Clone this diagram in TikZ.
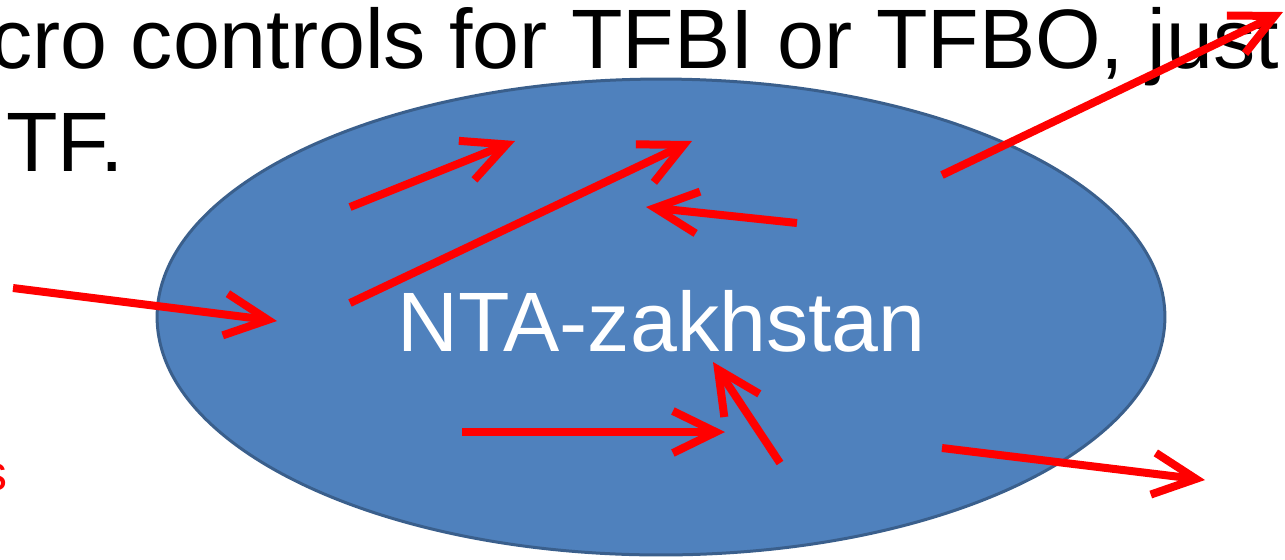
\documentclass[tikz,border=0pt]{standalone}
\usepackage{fontspec}
\setmainfont{Liberation Sans}
\usetikzlibrary{shapes.geometric, arrows.meta, positioning}
\definecolor{blobblue}{HTML}{4F81BD}
\definecolor{blobedge}{HTML}{3A5F8C}

\begin{document}
\begin{tikzpicture}[x=0.02cm, y=-0.02cm,
  flow/.style={draw=red, line width=0.16cm, -{Straight Barb[length=0.86cm, width=0.84cm, sharp]}},
  slidetext/.style={font=\fontsize{48pt}{57pt}\selectfont, inner sep=0, anchor=base west}]
\useasboundingbox (0,0) rectangle (1285,559);
\clip (0,0) rectangle (1285,559);
% the region
\node[ellipse, draw=blobedge, fill=blobblue, line width=0.06cm, inner sep=0,
      minimum width=20.16cm, minimum height=9.52cm] (blob) at (661,317) {};
\node[slidetext, anchor=base, text=white] (name) at (661.5,351) {NTA-zakhstan};
% slide text behind
\node[slidetext] (line1) at (-10,68) {cro controls for TFBI or TFBO, just};
\node[slidetext] (line2) at (6,171) {TF.};
\node[font=\fontsize{28.4pt}{34pt}\selectfont, text=red, inner sep=0, anchor=base east] (cut) at (8,490) {s};
% flows in, out and inside
\foreach \f/\ax/\ay/\bx/\by in {f1/350/207/515/141, f2/350/303/692/141,
    f3/797/223/646/207, f4/13/288/277/321,
    f5/942/175/1283/12, f6/462/432/725/432,
    f7/780/463/713/362, f8/942/448/1205/480} {
  \coordinate (\f-s) at (\ax,\ay);
  \coordinate (\f-e) at (\bx,\by);
  \draw[flow] (\f-s) -- (\f-e);
}
\end{tikzpicture}
\end{document}
